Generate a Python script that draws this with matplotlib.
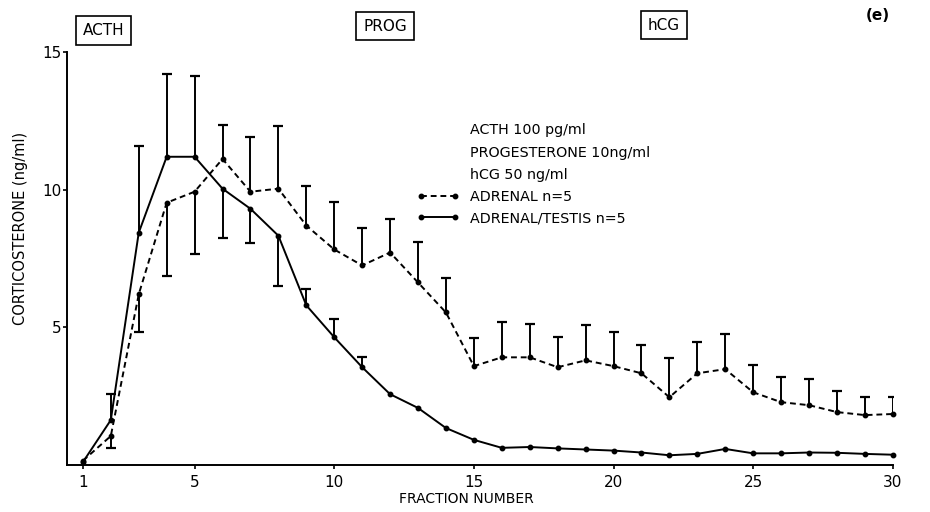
import numpy as np
import matplotlib.pyplot as plt
from matplotlib import font_manager

# fraction numbers on the x axis
fraction = np.arange(1, 31)
x_ticks = [1, 5, 10, 15, 20, 25, 30]
y_ticks = [5, 10, 15]

# ADRENAL n=5 (dashed), corticosterone ng/ml
adrenal = [0.15, 1.05, 6.2, 9.53, 9.93, 11.12, 9.93, 10.04, 8.7, 7.83,
           7.25, 7.72, 6.63, 5.54, 3.59, 3.91, 3.91, 3.55, 3.8, 3.59,
           3.33, 2.46, 3.33, 3.48, 2.64, 2.28, 2.17, 1.92, 1.81, 1.85]
adrenal_err_up = [0, 0, 0, 0, 0, 1.24, 1.99, 2.28, 1.44, 1.74,
                  1.37, 1.23, 1.49, 1.27, 1.01, 1.27, 1.2, 1.09, 1.27, 1.23,
                  1.02, 1.42, 1.13, 1.27, 0.98, 0.91, 0.95, 0.76, 0.65, 0.61]
adrenal_err_down = [0, 0.43, 1.38, 2.65, 2.25, 0, 0, 0, 0, 0,
                    0, 0, 0, 0, 0, 0, 0, 0, 0, 0,
                    0, 0, 0, 0, 0, 0, 0, 0, 0, 0]

# ADRENAL/TESTIS n=5 (solid)
testis = [0.1, 1.63, 8.44, 11.2, 11.2, 10.04, 9.31, 8.33, 5.8, 4.64,
          3.55, 2.57, 2.07, 1.34, 0.91, 0.62, 0.65, 0.6, 0.56, 0.52,
          0.45, 0.35, 0.4, 0.58, 0.42, 0.42, 0.45, 0.44, 0.4, 0.37]
testis_err_up = [0, 0.94, 3.16, 3.0, 2.93, 0, 0, 0, 0.61, 0.65,
                 0.36, 0, 0, 0, 0, 0, 0, 0, 0, 0,
                 0, 0, 0, 0, 0, 0, 0, 0, 0, 0]
testis_err_down = [0, 0, 0, 0, 0, 1.78, 1.23, 1.81, 0, 0,
                   0, 0, 0, 0, 0, 0, 0, 0, 0, 0,
                   0, 0, 0, 0, 0, 0, 0, 0, 0, 0]

treatments = ['ACTH', 'PROG', 'hCG']
conditions = ['ACTH 100 pg/ml', 'PROGESTERONE 10ng/ml', 'hCG 50 ng/ml']


def one_sided_bars(ax, x, mean, up, down):
    mean = np.asarray(mean)
    for err, sign in ((np.asarray(up), 1), (np.asarray(down), -1)):
        m = err > 0
        ends = mean[m] + sign * err[m]
        ax.vlines(x[m], mean[m], ends, color='k', lw=1.4)
        ax.plot(x[m], ends, ls='none', marker='_', ms=7, mew=1.6, color='k')


def main():
    names = {f.name for f in font_manager.fontManager.ttflist}
    fam = 'Liberation Sans Narrow' if 'Liberation Sans Narrow' in names else 'DejaVu Sans'
    plt.rcParams['font.family'] = [fam, 'DejaVu Sans']
    plt.rcParams['font.size'] = 11

    fig = plt.figure(figsize=(9.3, 5.12), dpi=100)
    ax = fig.add_axes([0.072, 0.092, 0.888, 0.806])

    l1, = ax.plot(fraction, adrenal, color='k', ls=(0, (3, 2)), lw=1.4,
                  marker='o', ms=3.2, clip_on=False)
    l2, = ax.plot(fraction, testis, color='k', ls='-', lw=1.4,
                  marker='o', ms=3.2, clip_on=False)
    one_sided_bars(ax, fraction, adrenal, adrenal_err_up, adrenal_err_down)
    one_sided_bars(ax, fraction, testis, testis_err_up, testis_err_down)

    ax.set_xlim(0.43, 30)
    ax.set_ylim(0, 15)
    ax.set_xticks(x_ticks)
    ax.set_yticks(y_ticks)
    ax.spines['top'].set_visible(False)
    ax.spines['right'].set_visible(False)
    ax.spines['left'].set_linewidth(1.4)
    ax.spines['bottom'].set_linewidth(1.4)
    ax.tick_params(axis='both', length=3, width=1.2, labelsize=11)
    ax.tick_params(axis='x', pad=4)
    ax.tick_params(axis='y', pad=1)

    fig.text(0.022, 0.553, 'CORTICOSTERONE (ng/ml)', rotation=90,
             ha='center', va='center', fontsize=10.5)
    fig.text(0.502, 0.025, 'FRACTION NUMBER', ha='center', va='center',
             fontsize=10)

    # treatment boxes along the top
    box = dict(boxstyle='square,pad=0.45', fc='white', ec='k', lw=1.2)
    for name, (bx, by) in zip(treatments, [(0.111, 0.941), (0.414, 0.949), (0.714, 0.951)]):
        fig.text(bx, by, name, ha='center', va='center', fontsize=11, bbox=box)
    fig.text(0.944, 0.969, '(e)', ha='center', va='center', fontsize=11,
             fontweight='bold')

    for txt, ty in zip(conditions, [0.746, 0.701, 0.658]):
        fig.text(0.505, ty, txt, ha='left', va='center', fontsize=10.3)

    fig.legend([l1, l2], ['ADRENAL n=5', 'ADRENAL/TESTIS n=5'],
               loc='upper left', bbox_to_anchor=(0.440, 0.643),
               frameon=False, numpoints=2, handlelength=3.0,
               handletextpad=0.75, borderpad=0, labelspacing=0.5,
               fontsize=10.3)

    fig.savefig('out.png', dpi=100)


if __name__ == "__main__":
    main()
